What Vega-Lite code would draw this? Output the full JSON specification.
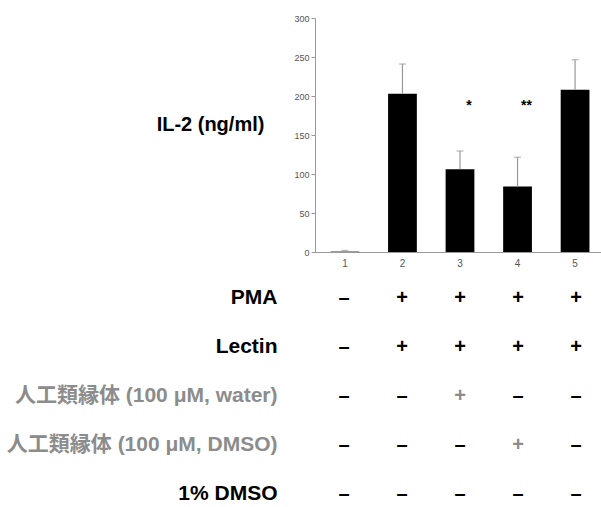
{
  "$schema": "https://vega.github.io/schema/vega-lite/v6.json",
  "padding": {"left": 6, "top": 14, "right": 0, "bottom": 0},
  "config": {"view": {"stroke": null}, "font": "Liberation Sans", "concat": {"spacing": 5}},
  "datasets": {
    "il2": [
      {"cond": "1", "il2": 0.5, "upper": 2, "sig": ""},
      {"cond": "2", "il2": 203, "upper": 241, "sig": ""},
      {"cond": "3", "il2": 106, "upper": 129.5, "sig": "*"},
      {"cond": "4", "il2": 84, "upper": 121.5, "sig": "**"},
      {"cond": "5", "il2": 208, "upper": 246.5, "sig": ""}
    ],
    "table": [
      {"factor": "PMA", "cond": "1", "sign": "–"},
      {"factor": "PMA", "cond": "2", "sign": "+"},
      {"factor": "PMA", "cond": "3", "sign": "+"},
      {"factor": "PMA", "cond": "4", "sign": "+"},
      {"factor": "PMA", "cond": "5", "sign": "+"},
      {"factor": "Lectin", "cond": "1", "sign": "–"},
      {"factor": "Lectin", "cond": "2", "sign": "+"},
      {"factor": "Lectin", "cond": "3", "sign": "+"},
      {"factor": "Lectin", "cond": "4", "sign": "+"},
      {"factor": "Lectin", "cond": "5", "sign": "+"},
      {"factor": "人工類縁体 (100 μM, water)", "cond": "1", "sign": "–"},
      {"factor": "人工類縁体 (100 μM, water)", "cond": "2", "sign": "–"},
      {"factor": "人工類縁体 (100 μM, water)", "cond": "3", "sign": "+"},
      {"factor": "人工類縁体 (100 μM, water)", "cond": "4", "sign": "–"},
      {"factor": "人工類縁体 (100 μM, water)", "cond": "5", "sign": "–"},
      {"factor": "人工類縁体 (100 μM, DMSO)", "cond": "1", "sign": "–"},
      {"factor": "人工類縁体 (100 μM, DMSO)", "cond": "2", "sign": "–"},
      {"factor": "人工類縁体 (100 μM, DMSO)", "cond": "3", "sign": "–"},
      {"factor": "人工類縁体 (100 μM, DMSO)", "cond": "4", "sign": "+"},
      {"factor": "人工類縁体 (100 μM, DMSO)", "cond": "5", "sign": "–"},
      {"factor": "1% DMSO", "cond": "1", "sign": "–"},
      {"factor": "1% DMSO", "cond": "2", "sign": "–"},
      {"factor": "1% DMSO", "cond": "3", "sign": "–"},
      {"factor": "1% DMSO", "cond": "4", "sign": "–"},
      {"factor": "1% DMSO", "cond": "5", "sign": "–"}
    ]
  },
  "vconcat": [
    {
      "width": 290,
      "height": 234,
      "data": {"name": "il2"},
      "encoding": {
        "x": {
          "field": "cond", "type": "nominal",
          "scale": {"paddingInner": 0.5, "paddingOuter": 0.27},
          "axis": {"title": null, "ticks": false, "labelAngle": 0, "labelFontSize": 10, "labelColor": "#555555", "domainColor": "#999999", "labelPadding": 6}
        }
      },
      "layer": [
        {
          "mark": {"type": "bar", "color": "black"},
          "encoding": {
            "y": {
              "field": "il2", "type": "quantitative", "title": "IL-2 (ng/ml)",
              "scale": {"domain": [0, 300], "nice": false},
              "axis": {
                "values": [0, 50, 100, 150, 200, 250, 300], "labelOverlap": false,
                "grid": false, "tickSize": 4, "tickColor": "#999999", "domainColor": "#999999",
                "labelFontSize": 9, "labelColor": "#555555", "labelPadding": 2,
                "title": "IL-2 (ng/ml)", "titleAngle": 0, "titleFontSize": 20, "titleFontWeight": "bold",
                "titleColor": "black", "titleX": -105, "titleY": 106, "titleAlign": "center", "titleBaseline": "middle"
              }
            }
          }
        },
        {
          "mark": {"type": "rule", "color": "#999999", "strokeWidth": 1.2},
          "encoding": {
            "y": {
              "field": "il2", "type": "quantitative", "title": "IL-2 (ng/ml)",
              "axis": {
                "values": [0, 50, 100, 150, 200, 250, 300], "labelOverlap": false,
                "grid": false, "tickSize": 4, "tickColor": "#999999", "domainColor": "#999999",
                "labelFontSize": 9, "labelColor": "#555555", "labelPadding": 2,
                "title": "IL-2 (ng/ml)", "titleAngle": 0, "titleFontSize": 20, "titleFontWeight": "bold",
                "titleColor": "black", "titleX": -105, "titleY": 106, "titleAlign": "center", "titleBaseline": "middle"
              }
            },
            "y2": {"field": "upper"}
          }
        },
        {
          "mark": {"type": "tick", "color": "#999999", "thickness": 1.2, "size": 7},
          "encoding": {
            "y": {
              "field": "upper", "type": "quantitative", "title": "IL-2 (ng/ml)",
              "axis": {
                "values": [0, 50, 100, 150, 200, 250, 300], "labelOverlap": false,
                "grid": false, "tickSize": 4, "tickColor": "#999999", "domainColor": "#999999",
                "labelFontSize": 9, "labelColor": "#555555", "labelPadding": 2,
                "title": "IL-2 (ng/ml)", "titleAngle": 0, "titleFontSize": 20, "titleFontWeight": "bold",
                "titleColor": "black", "titleX": -105, "titleY": 106, "titleAlign": "center", "titleBaseline": "middle"
              }
            }
          }
        },
        {
          "mark": {"type": "text", "fontSize": 14, "fontWeight": "bold", "dx": 9, "color": "black"},
          "encoding": {
            "y": {
              "datum": 187, "type": "quantitative", "title": "IL-2 (ng/ml)",
              "axis": {
                "values": [0, 50, 100, 150, 200, 250, 300], "labelOverlap": false,
                "grid": false, "tickSize": 4, "tickColor": "#999999", "domainColor": "#999999",
                "labelFontSize": 9, "labelColor": "#555555", "labelPadding": 2,
                "title": "IL-2 (ng/ml)", "titleAngle": 0, "titleFontSize": 20, "titleFontWeight": "bold",
                "titleColor": "black", "titleX": -105, "titleY": 106, "titleAlign": "center", "titleBaseline": "middle"
              }
            },
            "text": {"field": "sig"}
          }
        }
      ]
    },
    {
      "width": 290,
      "height": 245,
      "data": {"name": "table"},
      "mark": {"type": "text", "font": "Liberation Sans", "fontWeight": "bold", "fontSize": 20},
      "encoding": {
        "x": {
          "field": "cond", "type": "nominal",
          "scale": {"paddingInner": 0.5, "paddingOuter": 0.27},
          "axis": null
        },
        "y": {
          "field": "factor", "type": "nominal",
          "sort": ["PMA", "Lectin", "人工類縁体 (100 μM, water)", "人工類縁体 (100 μM, DMSO)", "1% DMSO"],
          "scale": {"type": "band", "paddingInner": 0, "paddingOuter": 0},
          "axis": {
            "title": null, "domain": false, "ticks": false, "labelPadding": 38, "labelLimit": 0,
            "labelFontSize": 21, "labelFontWeight": "bold", "labelFont": "Liberation Sans, Noto Sans CJK JP",
            "labelColor": {"condition": {"test": "indexof(datum.value, '人工') >= 0", "value": "#8c8c8c"}, "value": "black"}
          }
        },
        "text": {"field": "sign"},
        "color": {
          "condition": {"test": "datum.sign == '+' && indexof(datum.factor, '人工') >= 0", "value": "#8c8c8c"},
          "value": "black"
        }
      }
    }
  ]
}
